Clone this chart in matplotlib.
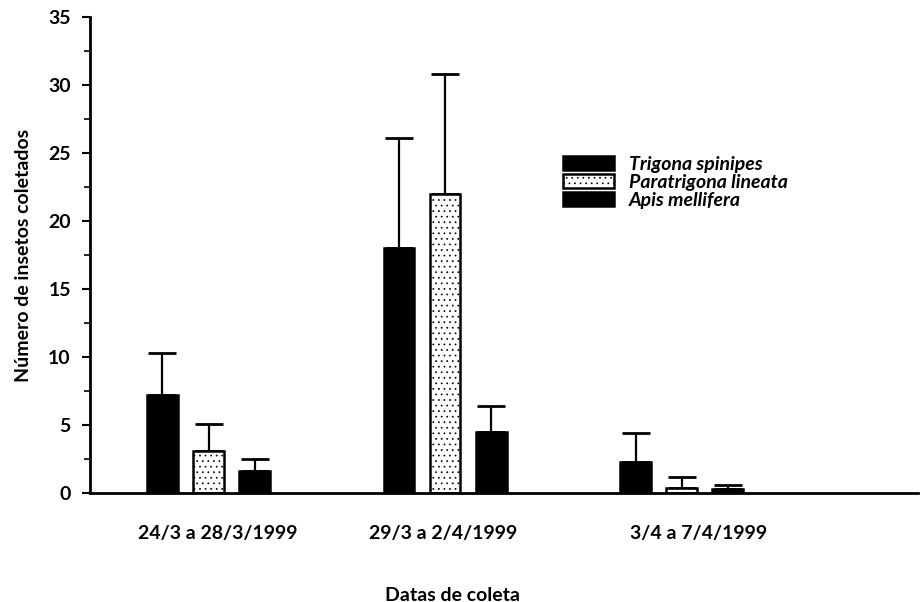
import numpy as np
import matplotlib.pyplot as plt

# values
periods = ["24/3 a 28/3/1999", "29/3 a 2/4/1999", "3/4 a 7/4/1999"]
species = ["Trigona spinipes", "Paratrigona lineata", "Apis mellifera"]

trigona = [7.2, 18.0, 2.3]
trigona_err = [3.1, 8.1, 2.1]
paratrigona = [3.1, 22.0, 0.4]
paratrigona_err = [2.0, 8.8, 0.8]
apis = [1.6, 4.5, 0.3]
apis_err = [0.9, 1.9, 0.3]

plt.rcParams['font.family'] = ['Lato', 'DejaVu Sans']
plt.rcParams['hatch.color'] = '#666666'
plt.rcParams['hatch.linewidth'] = 0.5

fig = plt.figure(figsize=(9.21, 6.02), dpi=100)
ax = fig.add_axes([0.098, 0.181, 0.899, 0.791])

x = np.arange(len(periods))
w = 0.13
offs = [-0.195, 0.0, 0.195]
series = [(trigona, trigona_err, "black", None),
          (paratrigona, paratrigona_err, "white", "..."),
          (apis, apis_err, "black", None)]

for (vals, err, col, hatch), off, name in zip(series, offs, species):
    ax.bar(x + off, vals, w, color=col, edgecolor="black", linewidth=1.8,
           hatch=hatch, label=name, zorder=2)
    ax.errorbar(x + off, vals, yerr=[np.zeros(len(vals)), err], fmt="none",
                ecolor="black", elinewidth=1.6, capsize=10, capthick=2.0, zorder=1)

ax.set_xlim(-0.5, 3.0)
ax.set_ylim(0, 35)
ax.set_yticks(np.arange(0, 36, 5))
ax.set_yticks(np.arange(0, 35, 2.5), minor=True)
ax.set_xticks([])
# period labels sit a little right of the group centres in the original
for xi, lab in zip(x + np.array([0.04, -0.01, 0.07]), periods):
    ax.text(xi, -3.0, lab, ha="center", va="center", fontsize=14, fontweight="bold")

ax.spines["top"].set_visible(False)
ax.spines["right"].set_visible(False)
ax.spines["left"].set_linewidth(2)
ax.spines["bottom"].set_linewidth(2)
ax.tick_params(axis="y", which="major", length=6, width=1.5, labelsize=14, pad=8)
ax.tick_params(axis="y", which="minor", length=4, width=1.2)
for t in ax.get_yticklabels():
    t.set_fontweight("bold")

ax.set_ylabel("Número de insetos coletados", fontsize=14, fontweight="bold", labelpad=12)
ax.text(1.03, -7.5, "Datas de coleta", ha="center", va="center", fontsize=14, fontweight="bold")

ax.legend(loc="upper left", bbox_to_anchor=(0.55, 0.745), frameon=False,
          prop={"style": "italic", "weight": "bold", "size": 14},
          handlelength=2.6, handleheight=0.75, labelspacing=0.05, handletextpad=0.8)

plt.savefig("out.png", dpi=100)
